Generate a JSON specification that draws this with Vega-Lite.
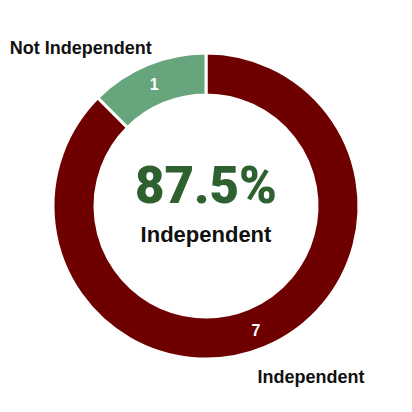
{
  "$schema": "https://vega.github.io/schema/vega-lite/v6.json",
  "width": 412,
  "height": 412,
  "autosize": {"type": "fit", "contains": "padding"},
  "padding": 0,
  "background": "white",
  "config": {"view": {"stroke": null}, "font": "Liberation Sans"},
  "data": {
    "values": [
      {"status": "Independent", "count": 7},
      {"status": "Not Independent", "count": 1}
    ]
  },
  "encoding": {
    "theta": {"field": "count", "type": "quantitative", "stack": true},
    "detail": {"field": "status", "type": "nominal"},
    "order": {"field": "status", "type": "nominal", "sort": "ascending"}
  },
  "layer": [
    {
      "mark": {"type": "arc", "innerRadius": 111, "outerRadius": 153, "stroke": "white", "strokeWidth": 3},
      "encoding": {
        "color": {
          "field": "status",
          "type": "nominal",
          "scale": {"domain": ["Independent", "Not Independent"], "range": ["#6e0000", "#67a57c"]},
          "legend": null
        }
      }
    },
    {
      "mark": {"type": "text", "radius": 133, "fontSize": 16, "fontWeight": "bold", "baseline": "middle", "dx": -1, "dy": 2},
      "encoding": {"text": {"field": "count", "type": "quantitative"}, "color": {"value": "white"}}
    },
    {
      "mark": {"type": "text", "radius": 165, "fontSize": 18, "fontWeight": "bold", "align": "right", "baseline": "alphabetic", "dx": 9},
      "encoding": {
        "text": {"condition": {"test": "datum.status === 'Not Independent'", "field": "status"}, "value": ""},
        "color": {"value": "#111111"}
      }
    },
    {
      "mark": {"type": "text", "radius": 192, "fontSize": 18, "fontWeight": "bold", "align": "left", "baseline": "alphabetic", "dx": -22},
      "encoding": {
        "text": {"condition": {"test": "datum.status === 'Independent'", "field": "status"}, "value": ""},
        "color": {"value": "#111111"}
      }
    },
    {
      "transform": [
        {"joinaggregate": [{"op": "sum", "field": "count", "as": "total"}]},
        {"calculate": "datum.count / datum.total", "as": "share"},
        {"filter": "datum.status === 'Independent'"}
      ],
      "mark": {"type": "text", "font": "Roboto", "fontSize": 51, "fontWeight": 900, "align": "center", "baseline": "alphabetic", "dy": -3},
      "encoding": {
        "theta": null,
        "detail": null,
        "order": null,
        "text": {"field": "share", "type": "quantitative", "format": ".1%"},
        "color": {"value": "#2e6030"}
      }
    },
    {
      "transform": [{"filter": "datum.status === 'Independent'"}],
      "mark": {"type": "text", "fontSize": 22, "fontWeight": "bold", "align": "center", "baseline": "alphabetic", "dy": 36},
      "encoding": {
        "theta": null,
        "detail": null,
        "order": null,
        "text": {"field": "status", "type": "nominal"},
        "color": {"value": "#111111"}
      }
    }
  ]
}
